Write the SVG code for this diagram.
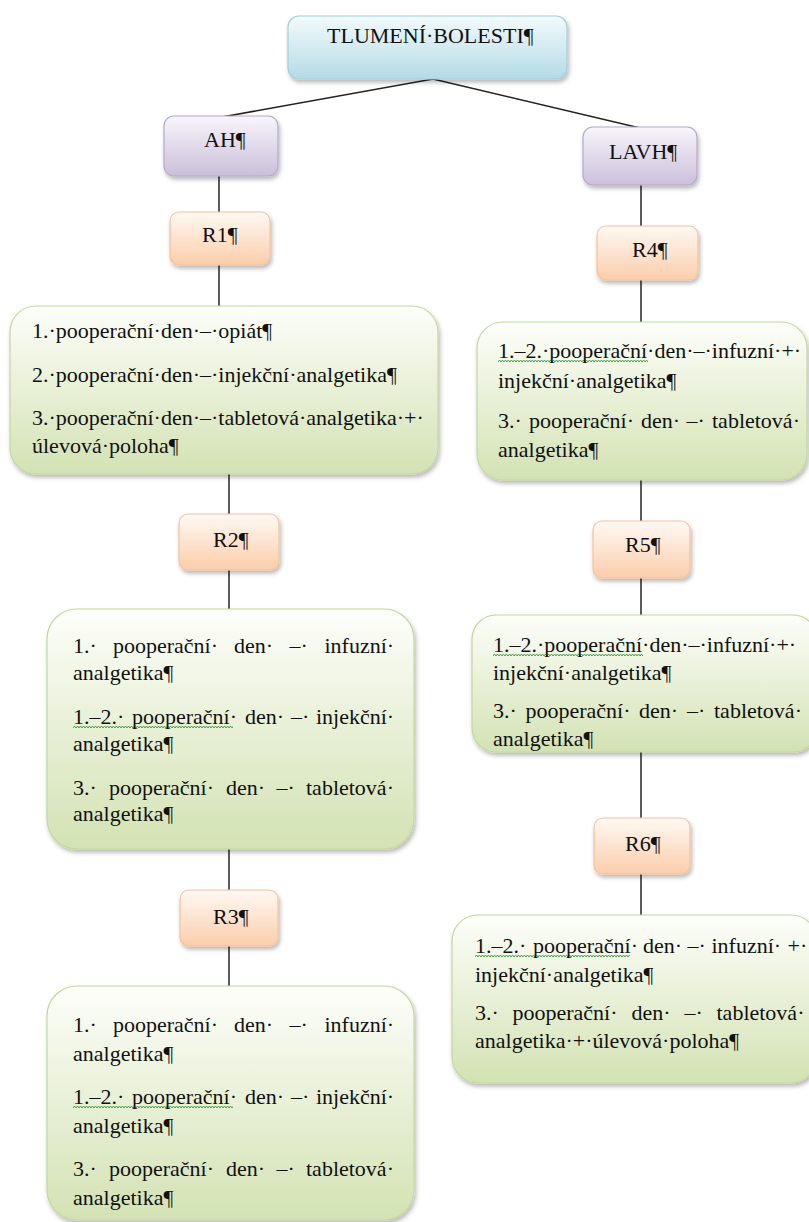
<svg xmlns="http://www.w3.org/2000/svg" width="809" height="1222" viewBox="0 0 809 1222">
<style>
text{font-size:22px;fill:#111}
.con{stroke:#222;stroke-width:1.6;fill:none}
.vcon{stroke:#333;stroke-width:1.6;fill:none}
.sq{fill:none;stroke:#3a9a3a;stroke-width:0.9}
</style>
<defs>
<linearGradient id="gBlue" x1="0" y1="0" x2="0" y2="1"><stop offset="0" stop-color="#f3fafc"/><stop offset="1" stop-color="#b3dbe6"/></linearGradient>
<linearGradient id="gPurple" x1="0" y1="0" x2="0" y2="1"><stop offset="0" stop-color="#f8f5fb"/><stop offset="1" stop-color="#cbbfdb"/></linearGradient>
<linearGradient id="gPeach" x1="0" y1="0" x2="0" y2="1"><stop offset="0" stop-color="#fff9f4"/><stop offset="1" stop-color="#fbcdaa"/></linearGradient>
<linearGradient id="gGreen" x1="0" y1="0" x2="0" y2="1"><stop offset="0" stop-color="#fdfefa"/><stop offset="1" stop-color="#d3e2b3"/></linearGradient>
<filter id="sh" x="-10%" y="-10%" width="125%" height="130%"><feDropShadow dx="1.5" dy="3" stdDeviation="2" flood-color="#000" flood-opacity="0.28"/></filter>
<path id="wave" d="M0 2 l1.5 -2 l1.5 2 l1.5 -2 l1.5 2 l1.5 -2 l1.5 2 l1.5 -2 l1.5 2 l1.5 -2 l1.5 2 l1.5 -2 l1.5 2 l1.5 -2 l1.5 2 l1.5 -2 l1.5 2 l1.5 -2 l1.5 2 l1.5 -2 l1.5 2 l1.5 -2 l1.5 2 l1.5 -2 l1.5 2 l1.5 -2 l1.5 2 l1.5 -2 l1.5 2 l1.5 -2 l1.5 2 l1.5 -2 l1.5 2 l1.5 -2 l1.5 2 l1.5 -2 l1.5 2 l1.5 -2 l1.5 2 l1.5 -2 l1.5 2 l1.5 -2 l1.5 2 l1.5 -2 l1.5 2 l1.5 -2 l1.5 2 l1.5 -2 l1.5 2 l1.5 -2 l1.5 2 l1.5 -2 l1.5 2 l1.5 -2 l1.5 2 l1.5 -2 l1.5 2 l1.5 -2 l1.5 2 l1.5 -2 l1.5 2 l1.5 -2 l1.5 2 l1.5 -2 l1.5 2 l1.5 -2 l1.5 2 l1.5 -2 l1.5 2 l1.5 -2 l1.5 2 l1.5 -2 l1.5 2 l1.5 -2 l1.5 2 l1.5 -2 l1.5 2 l1.5 -2 l1.5 2 l1.5 -2 l1.5 2 l1.5 -2 l1.5 2 l1.5 -2 l1.5 2 l1.5 -2 l1.5 2 l1.5 -2 l1.5 2 l1.5 -2 l1.5 2 l1.5 -2 l1.5 2 l1.5 -2 l1.5 2 l1.5 -2 l1.5 2 l1.5 -2 l1.5 2 l1.5 -2 l1.5 2 l1.5 -2 l1.5 2 l1.5 -2 l1.5 2 l1.5 -2 l1.5 2 l1.5 -2 l1.5 2 l1.5 -2 l1.5 2"/>
<clipPath id="c160"><rect x="0" y="-1" width="160" height="5"/></clipPath>
<clipPath id="c150"><rect x="0" y="-1" width="150" height="5"/></clipPath>
<clipPath id="c155"><rect x="0" y="-1" width="155" height="5"/></clipPath>
</defs>

<g id="connectors">
<polyline class="con" points="222,117 433,79 640,128"/>
<line class="vcon" x1="219" y1="175" x2="219" y2="212"/>
<line class="vcon" x1="219" y1="265" x2="219" y2="306"/>
<line class="vcon" x1="229" y1="474" x2="229" y2="514"/>
<line class="vcon" x1="229" y1="570" x2="229" y2="609"/>
<line class="vcon" x1="229" y1="849" x2="229" y2="890"/>
<line class="vcon" x1="229" y1="946" x2="229" y2="986"/>
<line class="vcon" x1="641" y1="185" x2="641" y2="226"/>
<line class="vcon" x1="641" y1="280" x2="641" y2="322"/>
<line class="vcon" x1="641" y1="480" x2="641" y2="521"/>
<line class="vcon" x1="641" y1="578" x2="641" y2="615"/>
<line class="vcon" x1="641" y1="752" x2="641" y2="818"/>
<line class="vcon" x1="641" y1="874" x2="641" y2="915"/>
</g>

<g font-family="Liberation Serif, serif">
<g id="title">
<rect x="288" y="16" width="279" height="63" rx="11" fill="url(#gBlue)" stroke="#a3cfdb" stroke-width="1.2" filter="url(#sh)"/>
<text x="327" y="43">TLUMENÍ·BOLESTI¶</text>
</g>

<g id="ah">
<rect x="164" y="116" width="114" height="60" rx="10" fill="url(#gPurple)" stroke="#b6a8ca" stroke-width="1.2" filter="url(#sh)"/>
<text x="204" y="147">AH¶</text>
</g>

<g id="lavh">
<rect x="583" y="127" width="114" height="58" rx="10" fill="url(#gPurple)" stroke="#b6a8ca" stroke-width="1.2" filter="url(#sh)"/>
<text x="609" y="159">LAVH¶</text>
</g>

<g id="r1">
<rect x="170" y="212" width="100" height="53" rx="9" fill="url(#gPeach)" stroke="#f7c29c" stroke-width="1.2" filter="url(#sh)"/>
<text x="202" y="242">R1¶</text>
</g>

<g id="r2">
<rect x="179" y="514" width="100" height="56" rx="9" fill="url(#gPeach)" stroke="#f7c29c" stroke-width="1.2" filter="url(#sh)"/>
<text x="213" y="547">R2¶</text>
</g>

<g id="r3">
<rect x="180" y="890" width="98" height="56" rx="9" fill="url(#gPeach)" stroke="#f7c29c" stroke-width="1.2" filter="url(#sh)"/>
<text x="213" y="924">R3¶</text>
</g>

<g id="r4">
<rect x="597" y="226" width="101" height="54" rx="9" fill="url(#gPeach)" stroke="#f7c29c" stroke-width="1.2" filter="url(#sh)"/>
<text x="632" y="257">R4¶</text>
</g>

<g id="r5">
<rect x="593" y="521" width="97" height="57" rx="9" fill="url(#gPeach)" stroke="#f7c29c" stroke-width="1.2" filter="url(#sh)"/>
<text x="625" y="552">R5¶</text>
</g>

<g id="r6">
<rect x="594" y="818" width="96" height="56" rx="9" fill="url(#gPeach)" stroke="#f7c29c" stroke-width="1.2" filter="url(#sh)"/>
<text x="625" y="851">R6¶</text>
</g>

<g id="box1">
<rect x="10" y="306" width="428" height="168" rx="26" fill="url(#gGreen)" stroke="#c4d89e" stroke-width="1.2" filter="url(#sh)"/>
<text x="32" y="338">1.·pooperační·den·–·opiát¶</text>
<text x="32" y="382">2.·pooperační·den·–·injekční·analgetika¶</text>
<text x="32" y="425">3.·pooperační·den·–·tabletová·analgetika·+·</text>
<text x="32" y="453">úlevová·poloha¶</text>
</g>

<g id="box2">
<rect x="47" y="609" width="367" height="240" rx="30" fill="url(#gGreen)" stroke="#c4d89e" stroke-width="1.2" filter="url(#sh)"/>
<text y="653"><tspan x="73">1.·</tspan><tspan x="113">pooperační·</tspan><tspan x="234">den·</tspan><tspan x="289.5">–·</tspan><tspan x="324.5">infuzní·</tspan></text>
<text x="73" y="680">analgetika¶</text>
<use href="#wave" class="sq" clip-path="url(#c160)" transform="translate(73 726)"/>
<text y="724"><tspan x="73">1.–2.·</tspan><tspan x="132">pooperační·</tspan><tspan x="245">den·</tspan><tspan x="291">–·</tspan><tspan x="316">injekční·</tspan></text>
<text x="73" y="751">analgetika¶</text>
<text y="795"><tspan x="73">3.·</tspan><tspan x="109">pooperační·</tspan><tspan x="226">den·</tspan><tspan x="276.5">–·</tspan><tspan x="306">tabletová·</tspan></text>
<text x="73" y="821">analgetika¶</text>
</g>

<g id="box3">
<rect x="47" y="986" width="367" height="234" rx="30" fill="url(#gGreen)" stroke="#c4d89e" stroke-width="1.2" filter="url(#sh)"/>
<text y="1032"><tspan x="73">1.·</tspan><tspan x="113">pooperační·</tspan><tspan x="234">den·</tspan><tspan x="289.5">–·</tspan><tspan x="324.5">infuzní·</tspan></text>
<text x="73" y="1061">analgetika¶</text>
<use href="#wave" class="sq" clip-path="url(#c160)" transform="translate(73 1106)"/>
<text y="1104"><tspan x="73">1.–2.·</tspan><tspan x="132">pooperační·</tspan><tspan x="245">den·</tspan><tspan x="291">–·</tspan><tspan x="316">injekční·</tspan></text>
<text x="73" y="1133">analgetika¶</text>
<text y="1176"><tspan x="73">3.·</tspan><tspan x="109">pooperační·</tspan><tspan x="226">den·</tspan><tspan x="276.5">–·</tspan><tspan x="306">tabletová·</tspan></text>
<text x="73" y="1205">analgetika¶</text>
</g>

<g id="box4">
<rect x="477" y="322" width="330" height="158" rx="26" fill="url(#gGreen)" stroke="#c4d89e" stroke-width="1.2" filter="url(#sh)"/>
<use href="#wave" class="sq" clip-path="url(#c150)" transform="translate(498 360)"/>
<text x="498" y="358">1.–2.·pooperační·den·–·infuzní·+·</text>
<text x="498" y="388">injekční·analgetika¶</text>
<text y="428"><tspan x="498">3.·</tspan><tspan x="529">pooperační·</tspan><tspan x="641">den·</tspan><tspan x="686.5">–·</tspan><tspan x="712">tabletová·</tspan></text>
<text x="498" y="457">analgetika¶</text>
</g>

<g id="box5">
<rect x="472" y="615" width="345" height="137" rx="24" fill="url(#gGreen)" stroke="#c4d89e" stroke-width="1.2" filter="url(#sh)"/>
<use href="#wave" class="sq" clip-path="url(#c150)" transform="translate(493 654)"/>
<text x="493" y="652">1.–2.·pooperační·den·–·infuzní·+·</text>
<text x="493" y="680">injekční·analgetika¶</text>
<text y="718"><tspan x="493">3.·</tspan><tspan x="525.5">pooperační·</tspan><tspan x="639">den·</tspan><tspan x="687">–·</tspan><tspan x="714">tabletová·</tspan></text>
<text x="493" y="746">analgetika¶</text>
</g>

<g id="box6">
<rect x="452" y="915" width="365" height="168" rx="26" fill="url(#gGreen)" stroke="#c4d89e" stroke-width="1.2" filter="url(#sh)"/>
<use href="#wave" class="sq" clip-path="url(#c155)" transform="translate(475 955)"/>
<text y="953"><tspan x="475">1.–2.·</tspan><tspan x="533">pooperační·</tspan><tspan x="643">den·</tspan><tspan x="687.5">–·</tspan><tspan x="711.5">infuzní·</tspan><tspan x="787.5">+·</tspan></text>
<text x="475" y="982">injekční·analgetika¶</text>
<text y="1020"><tspan x="475">3.·</tspan><tspan x="512.5">pooperační·</tspan><tspan x="631.5">den·</tspan><tspan x="684.5">–·</tspan><tspan x="716.5">tabletová·</tspan></text>
<text x="475" y="1048">analgetika·+·úlevová·poloha¶</text>
</g>
</g>
</svg>
